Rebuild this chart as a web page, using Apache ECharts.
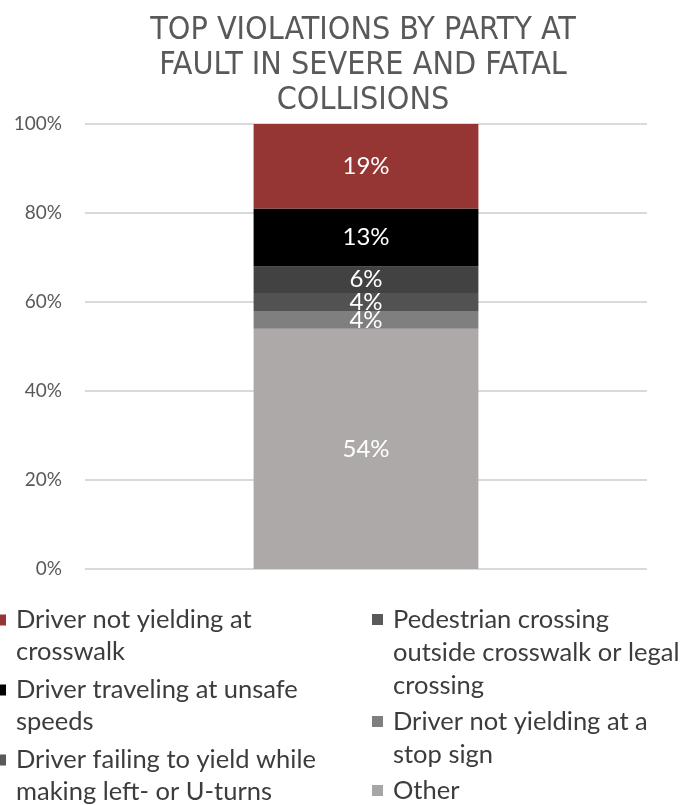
<!DOCTYPE html>
<html>
<head>
<meta charset="utf-8">
<script src="https://cdn.jsdelivr.net/npm/echarts@6/dist/echarts.min.js"></script>
<style>
  html, body { margin: 0; padding: 0; background: #fff; }
  #chart { width: 684px; height: 805px; }
</style>
</head>
<body>
<div id="chart"></div>
<script>
// one stacked 100% column, bottom to top
const categories = ["All"]
const seriesNames = [
    "Other",
    "Driver not yielding at a stop sign",
    "Pedestrian crossing outside crosswalk or legal crossing",
    "Driver failing to yield while making left- or U-turns",
    "Driver traveling at unsafe speeds",
    "Driver not yielding at crosswalk",
]
const seriesValues = [54, 4, 4, 6, 13, 19]
const seriesColors = ["#ada9a8", "#7f7f7f", "#525252", "#424242", "#000000", "#963634"]
const legendColors = ["#a6a6a6", "#7f7f7f", "#595959", "#595959", "#000000", "#963634"]
const yTicks = [0, 20, 40, 60, 80, 100]

// wrapped legend text, as in the reference
const legendText = {
    "Driver not yielding at crosswalk": "Driver not yielding at\ncrosswalk",
    "Driver traveling at unsafe speeds": "Driver traveling at unsafe\nspeeds",
    "Driver failing to yield while making left- or U-turns": "Driver failing to yield while\nmaking left- or U-turns",
    "Pedestrian crossing outside crosswalk or legal crossing": "Pedestrian crossing\noutside crosswalk or legal\ncrossing",
    "Driver not yielding at a stop sign": "Driver not yielding at a\nstop sign",
    "Other": "Other",
}

const myChart = echarts.init(document.getElementById("chart"))

// legend marker drawn as a rich-text square so it sits on the first line
const rich = {}
seriesNames.forEach((n, i) => {
    rich["m" + i] = { backgroundColor: legendColors[i], width: 11, height: 11 }
})
rich.gap = { width: 10 }
rich.sp = { width: 21 }
function legendFormatter(name) {
    const i = seriesNames.indexOf(name)
    const lines = legendText[name].split("\n")
    return lines.map((l, k) => (k === 0 ? "{m" + i + "|}{gap|}" : "{sp|}") + "{t|" + l + "}").join("\n")
}
const textFont = "Lato"
const legendStyle = (lh) => ({
    color: "#3d3b3e",
    fontFamily: textFont,
    fontSize: 25.5,
    lineHeight: lh,
    rich: Object.assign({ t: { color: "#3d3b3e", fontFamily: textFont, fontSize: 25.5, lineHeight: lh } }, rich),
})

myChart.setOption({
    animation: false,
    title: {
        text: "TOP VIOLATIONS BY PARTY AT\nFAULT IN SEVERE AND FATAL\nCOLLISIONS",
        left: 358,
        textAlign: "center",
        top: 8,
        textStyle: {
            color: "#595959",
            fontFamily: "'DejaVu Sans Condensed', Lato",
            fontWeight: "normal",
            fontSize: 32,
            lineHeight: 35,
        },
    },
    grid: { left: 85, right: 37, top: 124, bottom: 236 },
    xAxis: {
        type: "category",
        data: categories,
        axisLine: { show: false },
        axisTick: { show: false },
        axisLabel: { show: false },
    },
    yAxis: {
        type: "value",
        min: yTicks[0],
        max: yTicks[yTicks.length - 1],
        interval: 20,
        axisLine: { show: false },
        axisTick: { show: false },
        splitLine: { lineStyle: { color: "#d9d9d9", width: 2 } },
        axisLabel: {
            formatter: (v) => v + "%",
            color: "#595959",
            fontFamily: textFont,
            fontSize: 19,
            margin: 23,
        },
    },
    legend: [
        {
            // left column: markers are cut off by the page edge, as in the reference
            orient: "vertical",
            left: -10,
            top: 604,
            height: 260,
            padding: 0,
            itemWidth: 0,
            itemHeight: 0,
            itemGap: 6,
            icon: "rect",
            data: seriesNames.slice(3).reverse(),
            formatter: legendFormatter,
            textStyle: legendStyle(32),
        },
        {
            orient: "vertical",
            left: 367,
            top: 603,
            height: 260,
            padding: 0,
            itemWidth: 0,
            itemHeight: 0,
            itemGap: 3,
            icon: "rect",
            data: seriesNames.slice(0, 3).reverse(),
            formatter: legendFormatter,
            textStyle: legendStyle(33),
        },
    ],
    series: seriesNames.map((name, i) => ({
        name,
        type: "bar",
        stack: "total",
        barWidth: "40%",
        itemStyle: { color: seriesColors[i] },
        label: {
            show: true,
            position: "inside",
            formatter: "{c}%",
            color: "#ffffff",
            fontFamily: textFont,
            fontSize: 24,
        },
        data: [seriesValues[i]],
    })),
})
</script>
</body>
</html>
